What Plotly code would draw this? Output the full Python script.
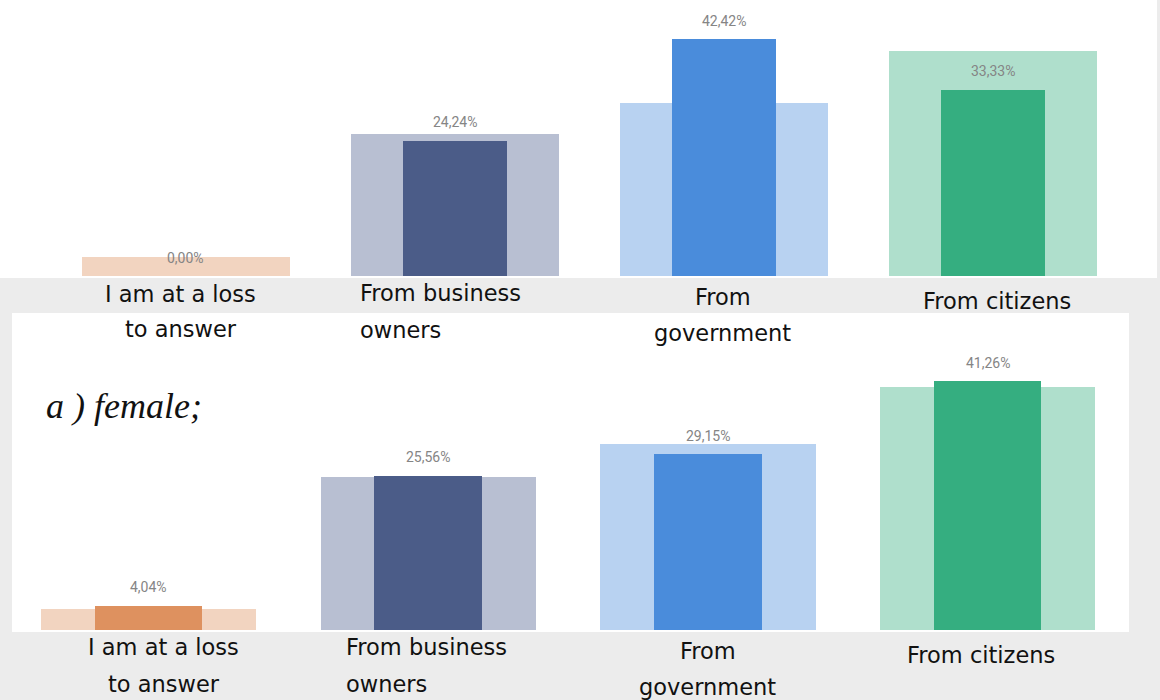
import plotly.graph_objects as go

# Survey answers, shown as two panels: overall (background) vs group (foreground)
categories = ["I am at a loss to answer", "From business owners", "From government", "From citizens"]
label_lines = [["I am at a loss", "to answer"], ["From business", "owners"], ["From", "government"], ["From citizens"]]

overall = [3.45, 25.40, 30.90, 40.20]          # wide, light bars
top_values = [0.00, 24.24, 42.42, 33.33]       # upper panel
female_values = [4.04, 25.56, 29.15, 41.26]    # lower panel

light_colors = ["#f2d4c0", "#b8bfd2", "#b8d2f1", "#afdfcc"]
dark_colors = ["#de915f", "#4b5c88", "#4a8cdb", "#35ae80"]

LABEL_FONT = dict(family="Liberation Sans Narrow, Roboto, sans-serif", size=14, color="#858585")
CAT_FONT = dict(family="DejaVu Sans, sans-serif", size=22.5, color="#111111")

x = list(range(len(categories)))


def pct(v):
    return f"{v:.2f}".replace(".", ",") + "%"


fig = go.Figure()

panels = [
    dict(xa="x", ya="y", values=top_values),
    dict(xa="x2", ya="y2", values=female_values),
]

for p in panels:
    fig.add_trace(go.Bar(
        x=x, y=overall, width=0.77, marker=dict(color=light_colors, line=dict(width=0)),
        xaxis=p["xa"], yaxis=p["ya"], showlegend=False, hoverinfo="skip",
    ))
    fig.add_trace(go.Bar(
        x=x, y=p["values"], width=0.385, marker=dict(color=dark_colors, line=dict(width=0)),
        xaxis=p["xa"], yaxis=p["ya"], showlegend=False,
    ))

annotations = []
# value labels above the dark bars
for p in panels:
    for i, v in enumerate(p["values"]):
        annotations.append(dict(
            x=i, y=v, xref=p["xa"], yref=p["ya"], text=pct(v), showarrow=False,
            yanchor="middle", xanchor="center", yshift=18.5, font=LABEL_FONT,
        ))

# category labels (two lines, set in the grey bands under each panel)
top_cat = [  # (x offset, anchor, y of line 1, y of line 2) in pixels from top
    (-0.02, "center", 294, 329),
    (-0.36, "left", 293, 330),
    (-0.004, "center", 297, 333),
    (0.015, "center", 301, None),
]
bot_cat = [
    (0.055, "center", 647, 684),
    (-0.30, "left", 647, 684),
    (0.0, "center", 651, 687),
    (-0.024, "center", 655, None),
]
for xa, spec in (("x", top_cat), ("x2", bot_cat)):
    for i, (dx, anchor, y1, y2) in enumerate(spec):
        for line, ypx in zip(label_lines[i], (y1, y2)):
            annotations.append(dict(
                x=i + dx, y=1 - ypx / 700, xref=xa, yref="paper", text=line,
                showarrow=False, xanchor=anchor, yanchor="middle", font=CAT_FONT,
            ))

annotations.append(dict(
    x=44 / 1160, y=1 - 406 / 700, xref="paper", yref="paper", text="<i>a ) female;</i>",
    showarrow=False, xanchor="left", yanchor="middle",
    font=dict(family="Liberation Serif, Times New Roman, serif", size=36, color="#111111"),
))

axis_off = dict(showgrid=False, zeroline=False, showticklabels=False, ticks="", showline=False, fixedrange=True)

fig.update_layout(
    width=1160, height=700,
    margin=dict(l=0, r=0, t=0, b=0),
    paper_bgcolor="#ececec", plot_bgcolor="#ffffff",
    barmode="overlay", bargap=0,
    xaxis=dict(domain=[0, 1157 / 1160], range=[-0.6914, 3.6097], anchor="y", **axis_off),
    yaxis=dict(domain=[1 - 278 / 700, 1], range=[-0.358, 49.40], anchor="x", **axis_off),
    xaxis2=dict(domain=[12 / 1160, 1129 / 1160], range=[-0.488, 3.5055], anchor="y2", **axis_off),
    yaxis2=dict(domain=[68 / 700, 387 / 700], range=[-0.331, 52.53], anchor="x2", **axis_off),
    annotations=annotations,
)

fig.write_html("out.html")
